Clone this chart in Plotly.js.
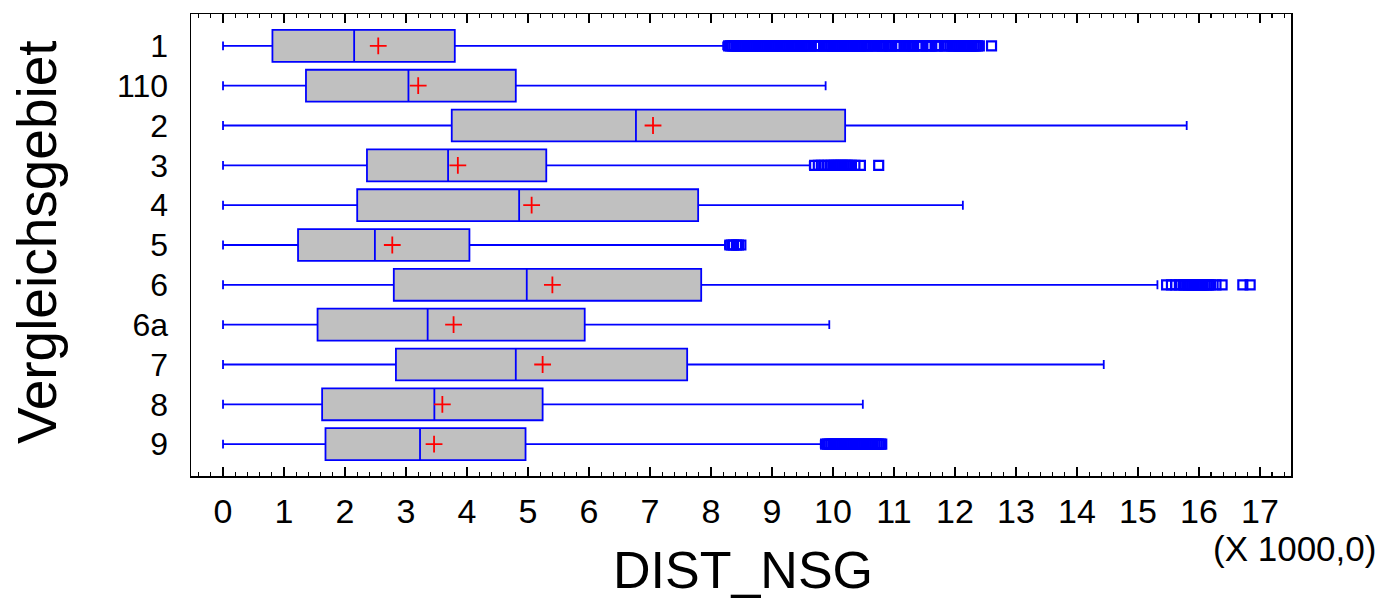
<!DOCTYPE html>
<html>
<head>
<meta charset="utf-8">
<script src="https://cdn.plot.ly/plotly-3.0.1.min.js"></script>
<style>
  html, body { margin: 0; padding: 0; background: #ffffff; }
  #chart { width: 1397px; height: 603px; }
</style>
</head>
<body>
<div id="chart"></div>
<script>
// Categories (Vergleichsgebiet), top to bottom
var categories = ["1", "110", "2", "3", "4", "5", "6", "6a", "7", "8", "9"];

// DIST_NSG in thousands
var lowerWhisker = [0, 0, 0, 0, 0, 0, 0, 0, 0, 0, 0];
var q1Values     = [0.81, 1.36, 3.75, 2.36, 2.20, 1.23, 2.80, 1.55, 2.835, 1.625, 1.68];
var medianValues = [2.15, 3.04, 6.77, 3.69, 4.855, 2.49, 4.98, 3.355, 4.80, 3.465, 3.23];
var q3Values     = [3.80, 4.80, 10.20, 5.30, 7.79, 4.04, 7.84, 5.93, 7.61, 5.24, 4.96];
var upperWhisker = [8.20, 9.88, 15.80, 9.62, 12.13, 8.23, 15.32, 9.94, 14.44, 10.49, 9.80];
var meanValues   = [2.545, 3.20, 7.05, 3.85, 5.06, 2.775, 5.40, 3.78, 5.24, 3.596, 3.46];

// Outliers (thousands), per category
var outliers_1 = [8.29, 8.32, 8.35, 8.38, 8.41, 8.44, 8.47, 8.50, 8.53, 8.56,
  8.59, 8.62, 8.65, 8.68, 8.71, 8.74, 8.77, 8.80, 8.83, 8.86,
  8.89, 8.92, 8.95, 8.98, 9.01, 9.04, 9.07, 9.10, 9.13, 9.16,
  9.19, 9.22, 9.25, 9.28, 9.31, 9.34, 9.37, 9.40, 9.43, 9.46,
  9.49, 9.52, 9.55, 9.58, 9.61, 9.64, 9.70, 9.73, 9.76,
  9.79, 9.85, 9.88, 9.91, 9.94, 9.97, 10.00, 10.03, 10.06,
  10.09, 10.12, 10.15, 10.18, 10.21, 10.24, 10.27, 10.30, 10.33, 10.36,
  10.39, 10.42, 10.45, 10.48, 10.51, 10.54, 10.57, 10.60, 10.66,
  10.69, 10.72, 10.78, 10.81, 10.84, 10.87, 10.90, 10.93, 10.96,
  11.02, 11.05, 11.08, 11.11, 11.17, 11.20, 11.23, 11.26,
  11.29, 11.32, 11.38, 11.41, 11.44, 11.47, 11.53, 11.56,
  11.59, 11.62, 11.68, 11.71, 11.74, 11.83, 11.86,
  11.92, 11.95, 11.98, 12.01, 12.04, 12.07, 12.10, 12.13, 12.16,
  12.19, 12.22, 12.25, 12.28, 12.31, 12.34, 12.37, 12.40, 12.60];
var outliers_110 = [];
var outliers_2 = [];
var outliers_3 = [9.70, 9.76, 9.81, 9.87, 9.92, 9.97, 10.00, 10.03, 10.06, 10.09,
  10.12, 10.15, 10.18, 10.21, 10.24, 10.27, 10.30, 10.36, 10.45, 10.75];
var outliers_4 = [];
var outliers_5 = [8.31, 8.34, 8.37, 8.42, 8.45, 8.49];
var outliers_6 = [15.47, 15.55, 15.62, 15.68, 15.74, 15.77, 15.80, 15.83, 15.86, 15.89,
  15.92, 15.95, 15.98, 16.01, 16.04, 16.07, 16.10, 16.13, 16.16, 16.19,
  16.28, 16.38, 16.72, 16.84];
var outliers_6a = [];
var outliers_7 = [];
var outliers_8 = [];
var outliers_9 = [9.88, 9.91, 9.94, 9.97, 10.00, 10.03, 10.06, 10.09, 10.12, 10.15,
  10.18, 10.21, 10.24, 10.27, 10.30, 10.33, 10.36, 10.39, 10.42, 10.45,
  10.48, 10.51, 10.54, 10.57, 10.60, 10.63, 10.66, 10.69, 10.72, 10.75,
  10.78, 10.80];

var xTickValues = [0,1,2,3,4,5,6,7,8,9,10,11,12,13,14,15,16,17];
var xTickLabels = ["0","1","2","3","4","5","6","7","8","9","10","11","12","13","14","15","16","17"];

var outlierLists = [outliers_1, outliers_110, outliers_2, outliers_3, outliers_4, outliers_5,
                    outliers_6, outliers_6a, outliers_7, outliers_8, outliers_9];
var ox = [], oy = [];
for (var i = 0; i < categories.length; i++) {
  for (var j = 0; j < outlierLists[i].length; j++) {
    ox.push(outlierLists[i][j]);
    oy.push(categories[i]);
  }
}

var BLUE = "#0000ff";
var FONT = "Liberation Sans, Arial, sans-serif";

var boxTrace = {
  type: "box",
  orientation: "h",
  y: categories,
  q1: q1Values,
  median: medianValues,
  q3: q3Values,
  lowerfence: lowerWhisker,
  upperfence: upperWhisker,
  width: 0.8,
  whiskerwidth: 0.28,
  boxpoints: false,
  fillcolor: "#c0c0c0",
  line: { color: BLUE, width: 1.8 },
  hoverinfo: "skip",
  showlegend: false
};

var outlierTrace = {
  type: "scatter",
  mode: "markers",
  x: ox,
  y: oy,
  marker: { symbol: "square-open", size: 9, color: BLUE, line: { width: 2.2, color: BLUE } },
  hoverinfo: "skip",
  showlegend: false
};

var meanTrace = {
  type: "scatter",
  mode: "markers",
  x: meanValues,
  y: categories,
  marker: { symbol: "cross-thin-open", size: 12, color: "#ff0000", line: { width: 1.8, color: "#ff0000" } },
  hoverinfo: "skip",
  showlegend: false
};

var layout = {
  width: 1397,
  height: 603,
  margin: { l: 191, r: 106, t: 14, b: 127, pad: 0 },
  paper_bgcolor: "#ffffff",
  plot_bgcolor: "#ffffff",
  showlegend: false,
  font: { family: FONT, color: "#000000" },
  xaxis: {
    range: [-0.525, 17.51],
    tickmode: "array",
    tickvals: xTickValues,
    ticktext: xTickLabels,
    ticks: "inside",
    ticklen: 9,
    tickwidth: 1.5,
    tickcolor: "#000000",
    minor: { ticks: "inside", dtick: 0.2, ticklen: 4, tickwidth: 1.2, tickcolor: "#000000" },
    showline: true,
    linecolor: "#000000",
    linewidth: 1.5,
    mirror: "ticks",
    showgrid: false,
    zeroline: false,
    tickfont: { family: FONT, size: 34, color: "#000000" },
    ticklabelstandoff: 5
  },
  yaxis: {
    type: "category",
    categoryorder: "array",
    categoryarray: categories,
    tickmode: "array",
    tickvals: categories,
    ticktext: categories,
    range: [10.8, -0.8],
    ticks: "",
    showline: true,
    linecolor: "#000000",
    linewidth: 1.5,
    mirror: true,
    showgrid: false,
    zeroline: false,
    tickfont: { family: FONT, size: 32, color: "#000000" },
    ticklabelstandoff: 15
  },
  annotations: [
    { text: "DIST_NSG", xref: "paper", yref: "paper", x: (743 - 191) / 1100, y: -(570 - 476) / 462,
      xanchor: "center", yanchor: "middle", showarrow: false, font: { family: FONT, size: 52, color: "#000000" } },
    { text: "(X 1000,0)", xref: "paper", yref: "paper", x: (1378 - 191) / 1100, y: -(548 - 476) / 462,
      xanchor: "right", yanchor: "middle", showarrow: false, font: { family: FONT, size: 35, color: "#000000" } },
    { text: "Vergleichsgebiet", xref: "paper", yref: "paper", x: -(191 - 37) / 1100, y: (476 - 242) / 462,
      xanchor: "center", yanchor: "middle", textangle: -90, showarrow: false, font: { family: FONT, size: 55, color: "#000000" } }
  ]
};

Plotly.newPlot("chart", [boxTrace, outlierTrace, meanTrace], layout, { staticPlot: true, displayModeBar: false });
</script>
</body>
</html>
